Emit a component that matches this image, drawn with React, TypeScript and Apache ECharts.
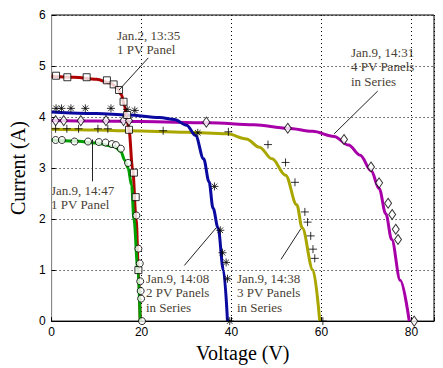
import React, { useEffect, useRef } from "react";
import * as echarts from "echarts";

// Curves (V, I)
const redLineV = [0, 5, 10, 13, 14.5, 15.5, 16.2, 16.7, 17.2, 18, 18.8, 19.3, 19.7];
const redLineI = [4.8, 4.78, 4.74, 4.67, 4.58, 4.44, 4.22, 4.0, 3.75, 3.0, 2.0, 1.0, 0];
const redPtsV = [1.0, 3.5, 7.8, 12.3, 13.8, 15.0, 16.0, 16.8, 17.2, 18.3, 18.7, 19.3];
const redPtsI = [4.81, 4.78, 4.78, 4.72, 4.64, 4.53, 4.3, 4.04, 3.75, 2.91, 2.43, 1.0];

const greenLineV = [0, 5, 10, 14, 15.4, 16.3, 17.0, 17.8, 18.3, 19.2, 19.7];
const greenLineI = [3.55, 3.53, 3.49, 3.42, 3.32, 3.15, 3.0, 2.66, 2.0, 1.0, 0];
const greenPtsV = [0.9, 2.3, 5.1, 8.1, 10.5, 12.0, 13.4, 14.3, 15.4, 17.0, 18.85, 19.3, 19.6, 19.7, 19.8, 19.9, 20.1];
const greenPtsI = [3.55, 3.55, 3.52, 3.52, 3.51, 3.5, 3.47, 3.45, 3.38, 3.1, 2.07, 1.42, 1.13, 0.78, 0.59, 0.44, 0];

const blueLineV = [0, 10, 17, 24, 27.3, 30, 32, 33.8, 35, 35.9, 37.0, 38.2, 39.1];
const blueLineI = [4.1, 4.07, 4.04, 3.99, 3.95, 3.84, 3.64, 3.18, 2.73, 2.21, 1.83, 1.0, 0];
const bluePtsV = [1.0, 2.2, 4.3, 7.5, 13.2, 16.8, 18.5, 32.5, 36.2, 37.5, 38.0, 38.8, 39.1, 39.6];
const bluePtsI = [4.17, 4.17, 4.17, 4.17, 4.17, 4.15, 4.13, 3.69, 2.64, 1.78, 1.34, 1.15, 0.83, 0];

const oliveLineV = [0, 10, 17, 30, 39, 43.3, 46.2, 49, 52, 54.5, 55.7, 58.1, 59.6];
const oliveLineI = [3.76, 3.745, 3.73, 3.7, 3.67, 3.57, 3.41, 3.18, 2.86, 2.28, 1.83, 1.0, 0];
const olivePtsV = [0.9, 3.4, 6.0, 10.3, 12.5, 24.8, 39.3, 48.1, 52.0, 54.1, 56.3, 56.9, 57.6, 58.1, 58.5, 60.3];
const olivePtsI = [3.77, 3.77, 3.77, 3.77, 3.77, 3.73, 3.71, 3.46, 3.11, 2.72, 2.14, 1.94, 1.67, 1.41, 1.23, 0];

const purpleLineV = [0, 10, 20, 35, 45, 52.5, 58, 62.8, 66, 68.6, 71, 72.8, 74.3, 75.6, 77.5, 79.5];
const purpleLineI = [3.93, 3.92, 3.91, 3.89, 3.85, 3.78, 3.72, 3.62, 3.45, 3.25, 2.95, 2.6, 2.1, 1.6, 0.8, 0];
const purplePtsV = [0.9, 2.7, 6.5, 12.1, 16.0, 17.2, 34.4, 52.5, 65.0, 71.0, 72.8, 74.8, 75.7, 76.5, 77.0, 80.6];
const purplePtsI = [3.93, 3.93, 3.93, 3.93, 3.93, 3.93, 3.9, 3.78, 3.56, 3.02, 2.71, 2.31, 2.09, 1.8, 1.6, 0];

// Annotation arrows: [fromV, fromI, toV, toI]
const arrowRed = [21.5, 5.16, 15.0, 4.53];
const arrowPurple = [72.5, 4.51, 62.8, 3.67];
const arrowGreen = [9.07, 2.74, 9.07, 3.56];
const arrowBlue = [29.5, 1.09, 36.6, 1.83];
const arrowOlive = [51.0, 1.21, 55.4, 1.81];

const xTicks = [0, 20, 40, 60, 80];

const zip = (a: number[], b: number[]) => a.map((v, i) => [v, b[i]]);

const plus = "path://M5,0L5,10M0,5L10,5";
const star = "path://M5,0L5,10M0,5L10,5M1.5,1.5L8.5,8.5M1.5,8.5L8.5,1.5";

function arrowML(a: number[]) {
  return {
    silent: true,
    symbol: ["none", "arrow"],
    symbolSize: [0, 12],
    label: { show: false },
    lineStyle: { color: "#222", width: 1, type: "solid" },
    data: [[{ coord: [a[0], a[1]] }, { coord: [a[2], a[3]] }]],
  };
}

function lineSeries(v: number[], i: number[], color: string, arrow: number[]) {
  return {
    type: "line",
    data: zip(v, i),
    smooth: 0.35,
    smoothMonotone: "x",
    showSymbol: false,
    lineStyle: { color, width: 3 },
    itemStyle: { color },
    markLine: arrowML(arrow),
    z: 2,
  };
}

function markerSeries(v: number[], i: number[], symbol: string, size: any, filled: boolean) {
  return {
    type: "scatter",
    data: zip(v, i),
    symbol,
    symbolSize: size,
    itemStyle: filled
      ? { color: "#fff", borderColor: "#000", borderWidth: 1 }
      : { color: "rgba(0,0,0,0)", borderColor: "#000", borderWidth: 1 },
    z: 3,
  };
}

const textStyle = {
  font: "13px 'Liberation Serif'",
  fill: "#4a3f35",
  lineHeight: 14.5,
};

export default function App() {
  const ref = useRef<HTMLDivElement>(null);
  useEffect(() => {
    if (!ref.current) return;
    const chart = echarts.init(ref.current, undefined, { renderer: "svg" });
    chart.setOption({
      animation: false,
      backgroundColor: "#fff",
      grid: {
        left: 44,
        right: 9,
        top: 15,
        bottom: 44,
        show: true,
        borderColor: "#000",
        borderWidth: 1,
        backgroundColor: "#fff",
      },
      xAxis: {
        type: "value",
        min: 0,
        max: 85,
        interval: 20,
        name: "Voltage (V)",
        nameLocation: "middle",
        nameGap: 19,
        nameTextStyle: { fontFamily: "Liberation Serif", fontSize: 20, color: "#000" },
        axisLine: { show: true, lineStyle: { color: "#000" } },
        axisTick: { show: true, inside: true, length: 4, lineStyle: { color: "#000" } },
        axisLabel: {
          fontFamily: "Liberation Sans",
          fontSize: 12,
          color: "#000",
          margin: 5,
          formatter: (v: number) => (xTicks.includes(v) ? String(v) : ""),
        },
        splitLine: { show: true, lineStyle: { type: [1, 3], color: "#000", width: 1 } },
      },
      yAxis: {
        type: "value",
        min: 0,
        max: 6,
        interval: 1,
        name: "Current (A)",
        nameLocation: "middle",
        nameGap: 23,
        nameTextStyle: { fontFamily: "Liberation Serif", fontSize: 20, color: "#000" },
        axisLine: { show: true, lineStyle: { color: "#888" } },
        axisTick: { show: true, inside: true, length: 4, lineStyle: { color: "#000" } },
        axisLabel: { fontFamily: "Liberation Sans", fontSize: 12, color: "#000", margin: 6 },
        splitLine: { show: true, lineStyle: { type: [1, 3], color: "#000", width: 1 } },
      },
      series: [
        lineSeries(oliveLineV, oliveLineI, "#aaa600", arrowOlive),
        lineSeries(purpleLineV, purpleLineI, "#a800a8", arrowPurple),
        lineSeries(blueLineV, blueLineI, "#0a0aa0", arrowBlue),
        lineSeries(redLineV, redLineI, "#b00000", arrowRed),
        lineSeries(greenLineV, greenLineI, "#00a000", arrowGreen),
        markerSeries(olivePtsV, olivePtsI, plus, 8, false),
        markerSeries(bluePtsV, bluePtsI, star, 8, false),
        markerSeries(purplePtsV, purplePtsI, "diamond", [7, 10], true),
        markerSeries(redPtsV, redPtsI, "rect", 7, true),
        markerSeries(greenPtsV, greenPtsI, "circle", 7, true),
      ],
      graphic: [
        { type: "text", left: 117, top: 28, style: { ...textStyle, text: "Jan.2, 13:35\n1 PV Panel" } },
        { type: "text", left: 351, top: 45, style: { ...textStyle, text: "Jan.9, 14:31\n4 PV Panels\nin Series" } },
        { type: "text", left: 51, top: 183, style: { ...textStyle, text: "Jan.9, 14:47\n1 PV Panel" } },
        { type: "text", left: 146, top: 271, style: { ...textStyle, text: "Jan.9, 14:08\n2 PV Panels\nin Series" } },
        { type: "text", left: 237, top: 271, style: { ...textStyle, text: "Jan.9, 14:38\n3 PV Panels\nin Series" } },
      ],
    });
    return () => chart.dispose();
  }, []);
  return (
    <div
      ref={ref}
      style={{ position: "fixed", left: 0, top: 0, width: 443, height: 368, background: "#fff" }}
    />
  );
}
